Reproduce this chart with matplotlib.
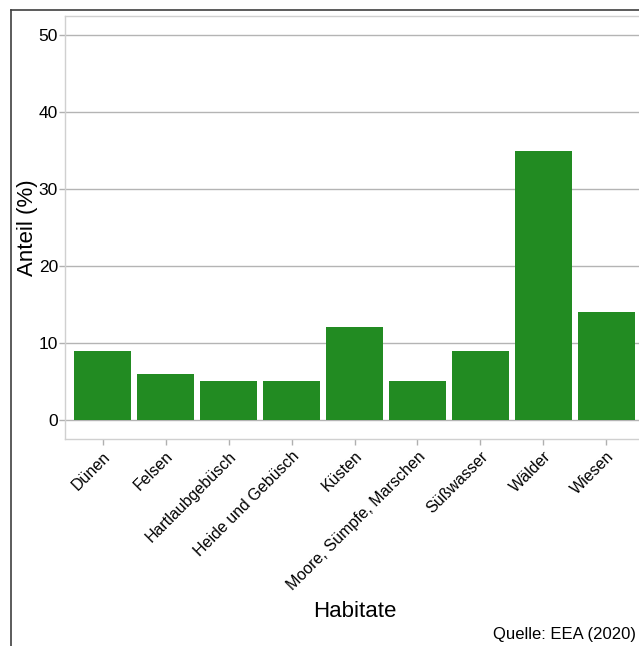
import numpy as np
import matplotlib
matplotlib.use("Agg")
import matplotlib.pyplot as plt
from matplotlib.lines import Line2D

plt.rcParams['font.family'] = ['Liberation Sans', 'DejaVu Sans']

habitate = ["Dünen", "Felsen", "Hartlaubgebüsch", "Heide und Gebüsch", "Küsten",
            "Moore, Sümpfe, Marschen", "Süßwasser", "Wälder", "Wiesen"]
anteil = [9, 6, 5, 5, 12, 5, 9, 35, 14]
yticks = [0, 10, 20, 30, 40, 50]

W, H = 639, 646
fig = plt.figure(figsize=(W/100, H/100), dpi=100)

# axes: left 65px, top 16px, bottom 439px, right ~644px (cropped)
left, right, top, bottom = 65, 644, 16, 439
ax = fig.add_axes([left/W, 1 - bottom/H, (right-left)/W, (bottom-top)/H])

x = np.arange(1, len(habitate)+1)
ax.bar(x, anteil, width=0.9, color="#228B22", zorder=3)

ax.set_xlim(0.4, len(habitate)+0.6)
ax.set_ylim(-2.5, 52.5)
ax.set_yticks(yticks)
ax.set_xticks(x)
ax.set_xticklabels(habitate, rotation=45, ha="right", rotation_mode="anchor", fontsize=11.5)
ax.tick_params(axis="y", labelsize=12.5, pad=1)
ax.tick_params(axis="x", pad=3)
ax.tick_params(colors="#b0b0b0", length=4, width=1, labelcolor="black")
ax.yaxis.grid(True, color="#b4b4b4", linewidth=1, zorder=0)
for s in ax.spines.values():
    s.set_color("#d0d0d0")
    s.set_linewidth(1)

ax.set_ylabel("Anteil (%)", fontsize=16)
ax.yaxis.set_label_coords(-0.047, 0.5)
ax.set_xlabel("Habitate", fontsize=16, labelpad=6)

# outer border of the (cropped) figure
fig.add_artist(Line2D([11/W, 11/W], [0, 1 - 10/H], color="#404040", linewidth=1.2))
fig.add_artist(Line2D([11/W, 1], [1 - 10/H, 1 - 10/H], color="#404040", linewidth=1.2))

fig.text(636/W, 1 - 634/H, "Quelle: EEA (2020)", fontsize=12, ha="right", va="center")

fig.savefig("out.png", dpi=100)
